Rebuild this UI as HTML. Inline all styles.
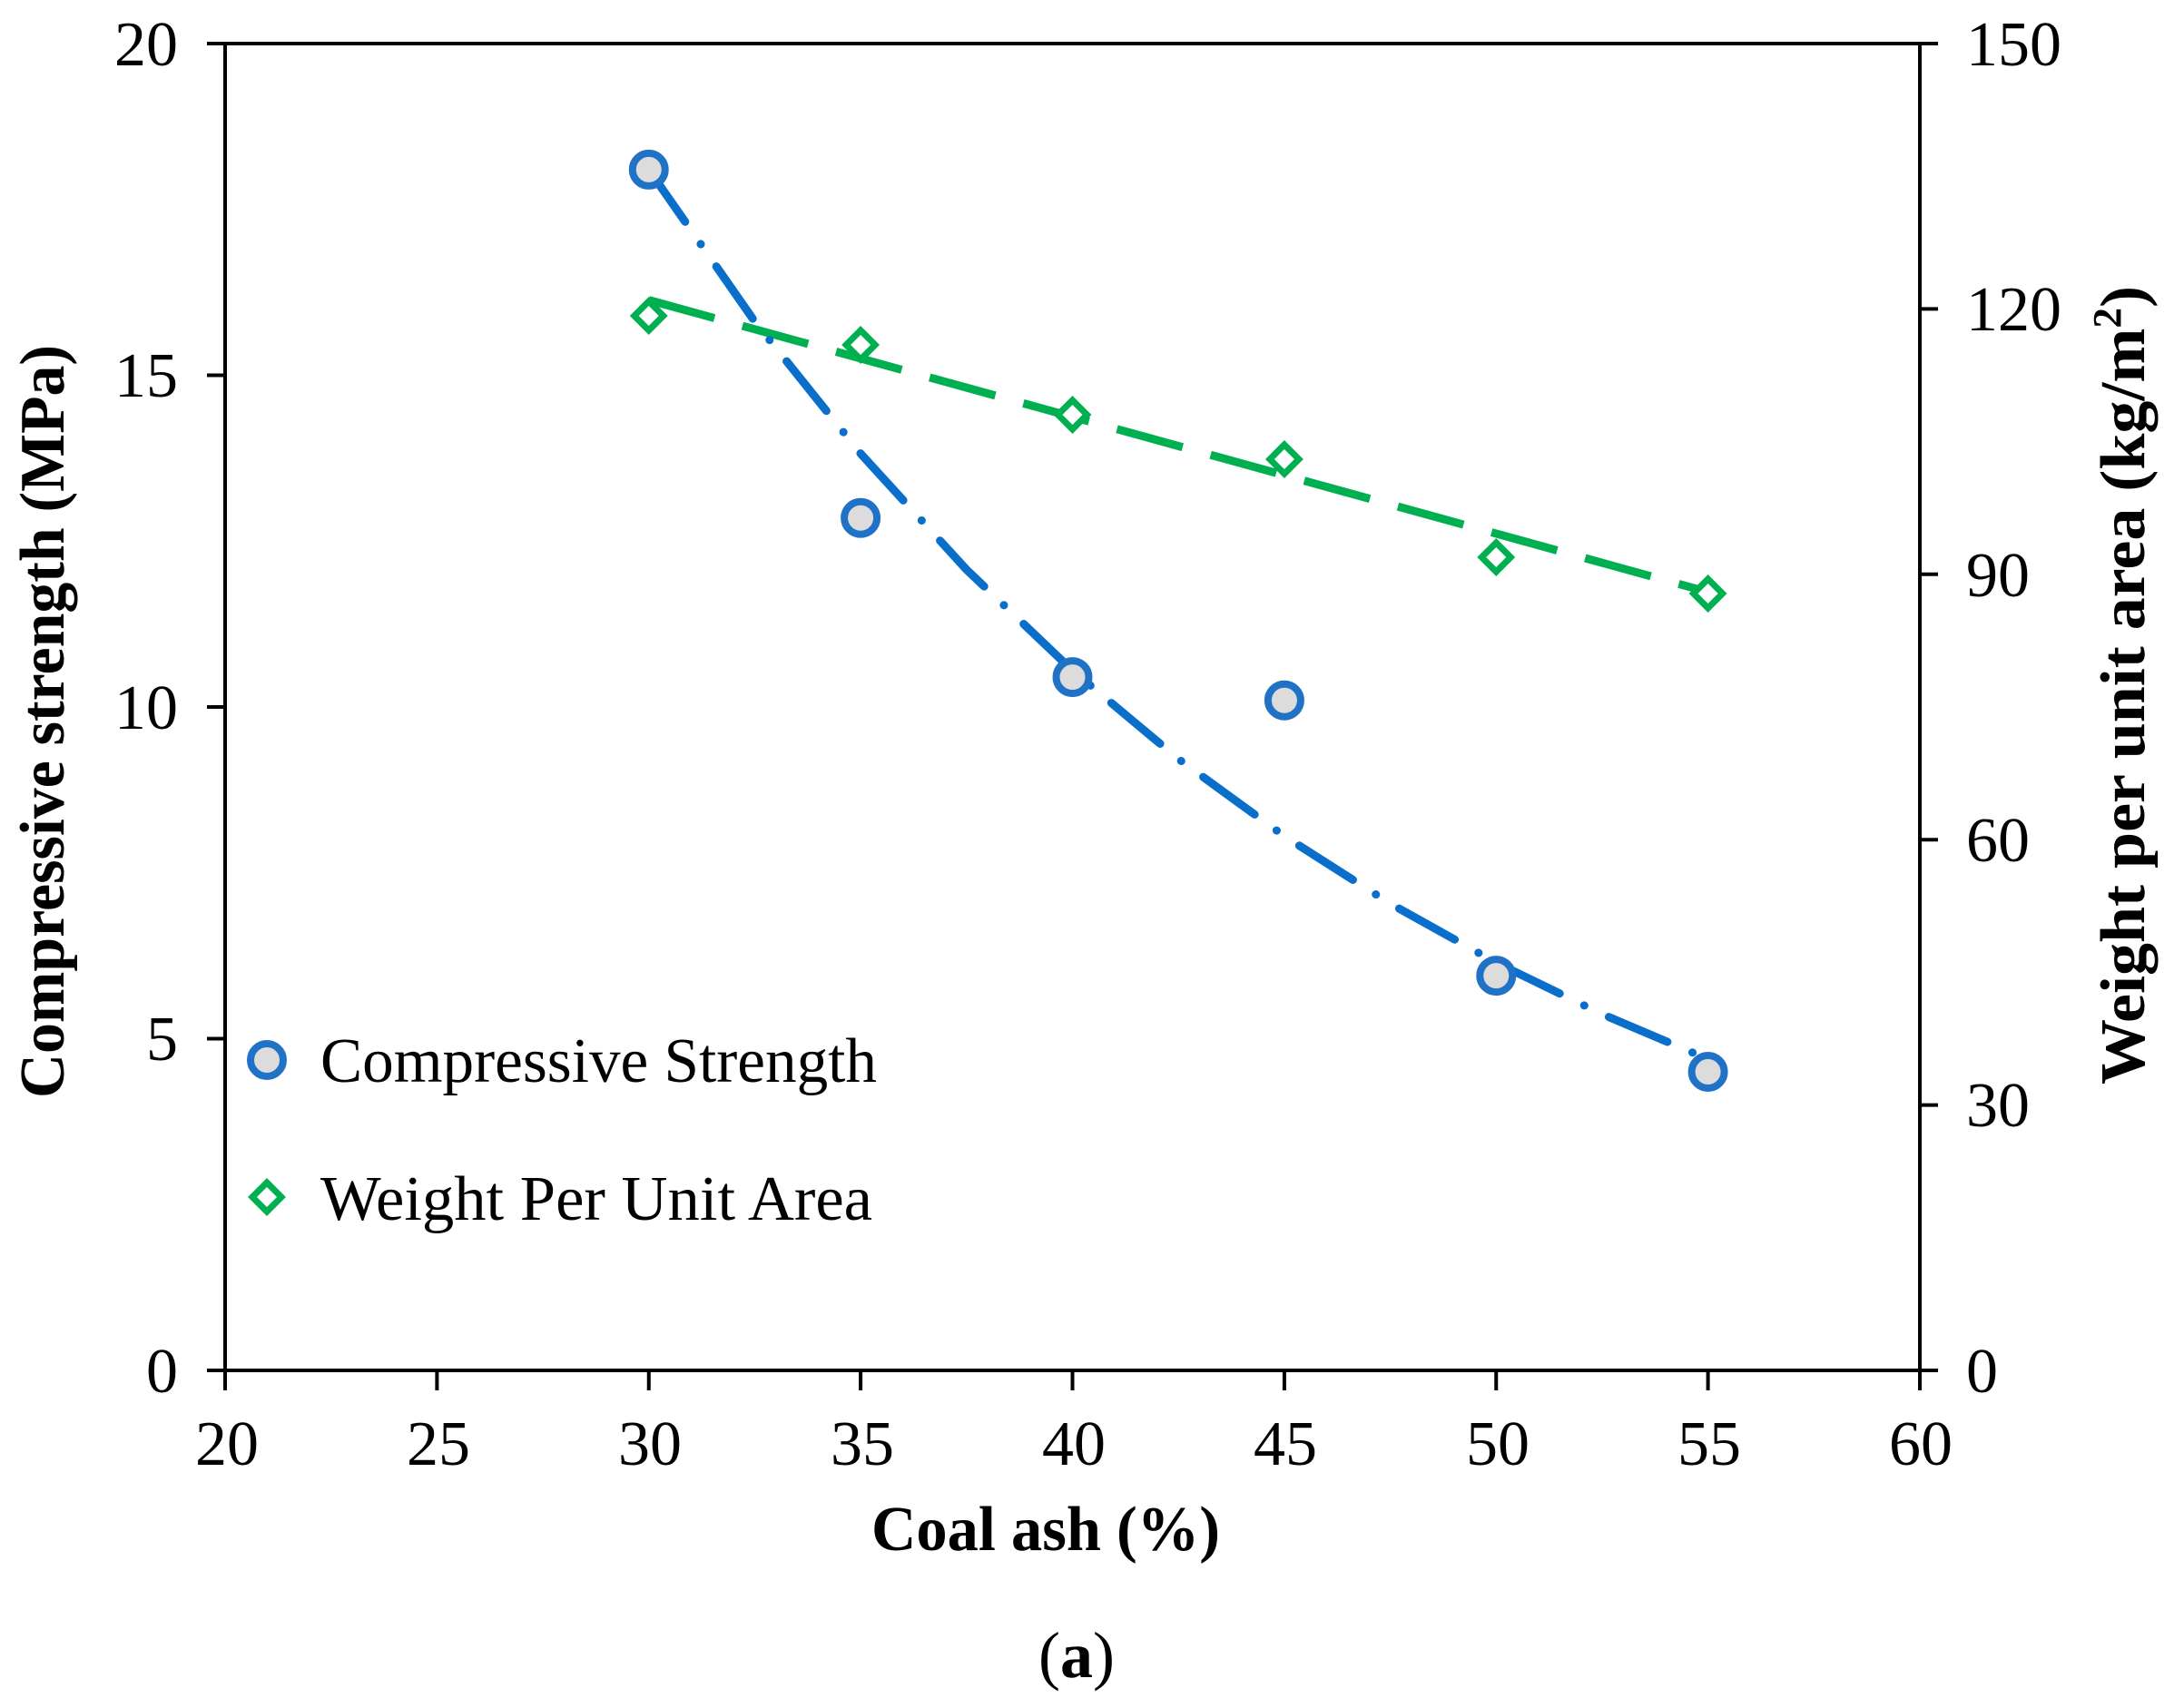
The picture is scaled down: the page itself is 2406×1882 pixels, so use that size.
<!DOCTYPE html>
<html><head><meta charset="utf-8"><style>
html,body{margin:0;padding:0;background:#fff;}
svg{display:block;}
text{font-family:"Liberation Serif",serif;fill:#000;}
</style></head><body>
<svg width="2406" height="1882" viewBox="0 0 2406 1882" xmlns="http://www.w3.org/2000/svg">
<!-- axes box -->
<g stroke="#000" stroke-width="4" fill="none">
<rect x="248" y="48" width="1867" height="1462"/>
<!-- left ticks -->
<line x1="228" y1="48" x2="248" y2="48"/>
<line x1="228" y1="413.5" x2="248" y2="413.5"/>
<line x1="228" y1="779" x2="248" y2="779"/>
<line x1="228" y1="1144.5" x2="248" y2="1144.5"/>
<line x1="228" y1="1510" x2="248" y2="1510"/>
<!-- right ticks -->
<line x1="2115" y1="48" x2="2135" y2="48"/>
<line x1="2115" y1="340.4" x2="2135" y2="340.4"/>
<line x1="2115" y1="632.8" x2="2135" y2="632.8"/>
<line x1="2115" y1="925.2" x2="2135" y2="925.2"/>
<line x1="2115" y1="1217.6" x2="2135" y2="1217.6"/>
<line x1="2115" y1="1510" x2="2135" y2="1510"/>
<!-- bottom ticks -->
<line x1="248" y1="1510" x2="248" y2="1532"/>
<line x1="481.4" y1="1510" x2="481.4" y2="1532"/>
<line x1="714.75" y1="1510" x2="714.75" y2="1532"/>
<line x1="948.1" y1="1510" x2="948.1" y2="1532"/>
<line x1="1181.5" y1="1510" x2="1181.5" y2="1532"/>
<line x1="1414.9" y1="1510" x2="1414.9" y2="1532"/>
<line x1="1648.25" y1="1510" x2="1648.25" y2="1532"/>
<line x1="1881.6" y1="1510" x2="1881.6" y2="1532"/>
<line x1="2115" y1="1510" x2="2115" y2="1532"/>
</g>
<!-- left tick labels -->
<g font-size="70" text-anchor="end">
<text x="196" y="72">20</text>
<text x="196" y="437">15</text>
<text x="196" y="803">10</text>
<text x="196" y="1168">5</text>
<text x="196" y="1534">0</text>
</g>
<!-- right tick labels -->
<g font-size="70" text-anchor="start">
<text x="2166" y="72">150</text>
<text x="2166" y="364">120</text>
<text x="2166" y="657">90</text>
<text x="2166" y="949">60</text>
<text x="2166" y="1241">30</text>
<text x="2166" y="1534">0</text>
</g>
<!-- bottom tick labels -->
<g font-size="70" text-anchor="middle">
<text x="250" y="1614">20</text>
<text x="483" y="1614">25</text>
<text x="716" y="1614">30</text>
<text x="950" y="1614">35</text>
<text x="1183" y="1614">40</text>
<text x="1416" y="1614">45</text>
<text x="1650" y="1614">50</text>
<text x="1883" y="1614">55</text>
<text x="2116" y="1614">60</text>
</g>
<!-- axis titles -->
<text x="1152" y="1708" font-size="70" font-weight="bold" text-anchor="middle" textLength="384" lengthAdjust="spacingAndGlyphs">Coal ash (%)</text>
<text transform="translate(70,795) rotate(-90)" font-size="70" font-weight="bold" text-anchor="middle" textLength="830" lengthAdjust="spacingAndGlyphs">Compressive strength (MPa)</text>
<text transform="translate(2362,755) rotate(-90)" font-size="70" font-weight="bold" text-anchor="middle" textLength="880" lengthAdjust="spacingAndGlyphs">Weight per unit area (kg/m<tspan font-size="44" dy="-26">2</tspan><tspan dy="26">)</tspan></text>
<text x="1186" y="1848" font-size="72" text-anchor="middle">(<tspan font-weight="bold">a</tspan>)</text>

<!-- green dashed trend -->
<line x1="714.75" y1="330.6" x2="1881.6" y2="652.3" stroke="#00b050" stroke-width="9" stroke-dasharray="75,32"/>
<!-- blue dash-dot trend -->
<path d="M714.75,186.9 L831.4,354.2 L948.1,499.8 L1064.8,627.7 L1181.5,738.8 L1298.2,836.3 L1414.9,921.3 L1531.6,995.7 L1648.25,1060.7 L1764.9,1117.4 L1881.6,1167" fill="none" stroke="#0a6fcb" stroke-width="9" stroke-linecap="round" stroke-dasharray="70,30,0.1,30"/>

<!-- blue markers -->
<g fill="#dcdcdc" stroke="#1f72c6" stroke-width="8">
<circle cx="714.75" cy="186.9" r="18"/>
<circle cx="948.1" cy="570.7" r="18"/>
<circle cx="1181.5" cy="746.1" r="18"/>
<circle cx="1414.9" cy="771.7" r="18"/>
<circle cx="1648.25" cy="1075.1" r="18"/>
<circle cx="1881.6" cy="1181" r="18"/>
<circle cx="294" cy="1168" r="18"/>
</g>
<!-- green markers -->
<g fill="#fff" stroke="#00b050" stroke-width="7">
<polygon points="714.75,332 730.75,348 714.75,364 698.75,348"/>
<polygon points="948.1,364 964.1,380 948.1,396 932.1,380"/>
<polygon points="1181.5,441 1197.5,457 1181.5,473 1165.5,457"/>
<polygon points="1414.9,490 1430.9,506 1414.9,522 1398.9,506"/>
<polygon points="1648.25,598 1664.25,614 1648.25,630 1632.25,614"/>
<polygon points="1881.6,638 1897.6,654 1881.6,670 1865.6,654"/>
<polygon points="294,1303 310,1319 294,1335 278,1319"/>
</g>
<!-- legend text -->
<text x="353" y="1192" font-size="70" textLength="613" lengthAdjust="spacingAndGlyphs">Compressive Strength</text>
<text x="353" y="1344" font-size="70" textLength="608" lengthAdjust="spacingAndGlyphs">Weight Per Unit Area</text>
</svg>
</body></html>
